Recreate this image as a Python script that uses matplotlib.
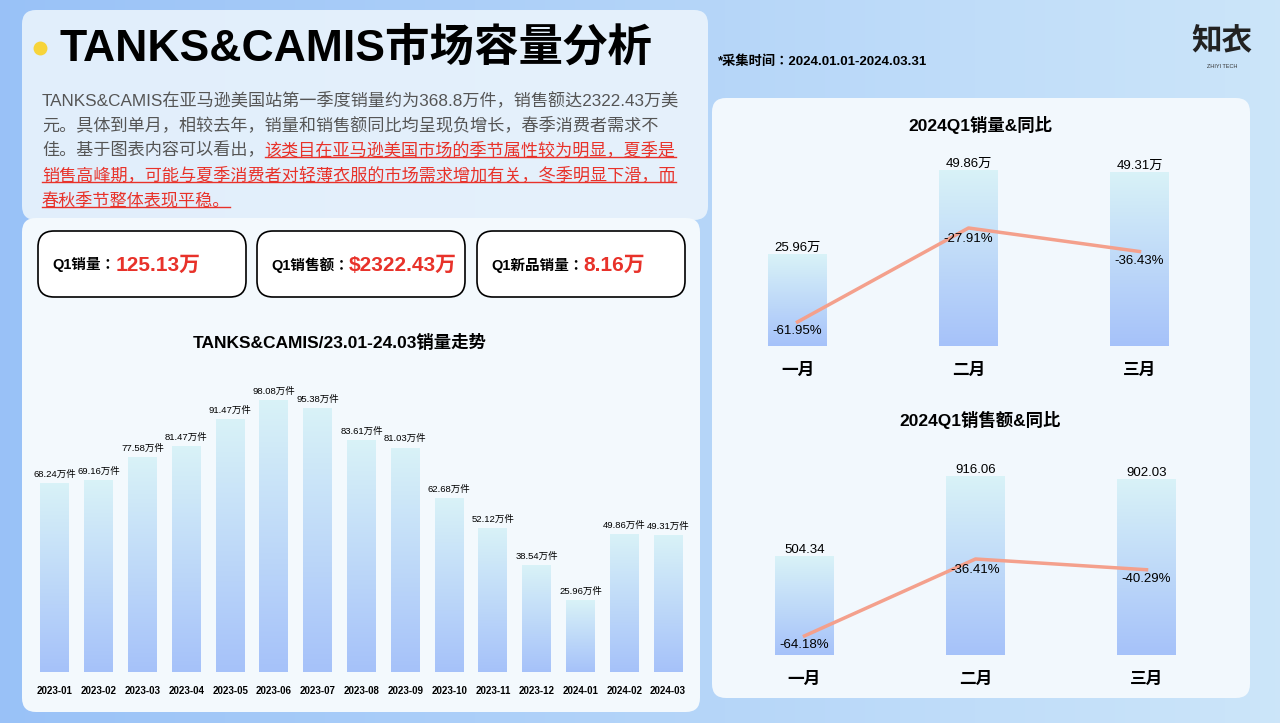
import numpy as np
import matplotlib.pyplot as plt
from matplotlib import font_manager as fm
from matplotlib.patches import FancyBboxPatch

cjk = sorted({f.name for f in fm.fontManager.ttflist if "CJK" in f.name})
sc = [n for n in cjk if "SC" in n] or cjk
plt.rcParams["font.family"] = ["Liberation Sans"] + sc[:1] + ["DejaVu Sans"]

# ---- data ----
months = ["2023-01", "2023-02", "2023-03", "2023-04", "2023-05", "2023-06", "2023-07", "2023-08",
          "2023-09", "2023-10", "2023-11", "2023-12", "2024-01", "2024-02", "2024-03"]
sales = [68.24, 69.16, 77.58, 81.47, 91.47, 98.08, 95.38, 83.61, 81.03, 62.68, 52.12, 38.54,
         25.96, 49.86, 49.31]

q1_months = ["一月", "二月", "三月"]
q1_volume = [25.96, 49.86, 49.31]
q1_volume_labels = ["25.96万", "49.86万", "49.31万"]
q1_volume_yoy = [-61.95, -27.91, -36.43]
q1_revenue = [504.34, 916.06, 902.03]
q1_revenue_yoy = [-64.18, -36.41, -40.29]

kpi_names = ["Q1销量：", "Q1销售额：", "Q1新品销量："]
kpi_values = ["125.13万", "$2322.43万", "8.16万"]

W, H = 1280, 723
fig = plt.figure(figsize=(12.8, 7.23), dpi=100)


def ax_px(x, y, w, h):
    return fig.add_axes([x / W, 1 - (y + h) / H, w / W, h / H])


# background
bg = ax_px(0, 0, W, H)
grad = np.linspace(0, 1, 256)
c0 = np.array([0.60, 0.76, 0.97])
c1 = np.array([0.80, 0.90, 0.98])
img = c0[None, :] + (c1 - c0)[None, :] * grad[:, None]
bg.imshow(img[None, :, :], extent=[0, W, H, 0], aspect="auto")
bg.set_xlim(0, W)
bg.set_ylim(H, 0)
bg.axis("off")


def panel(x, y, w, h, fc, ec="none", lw=0, r=14, alpha=1.0):
    bg.add_patch(FancyBboxPatch((x, y), w, h, boxstyle=f"round,pad=0,rounding_size={r}",
                                fc=fc, ec=ec, lw=lw, alpha=alpha, zorder=2))


panel(22, 10, 686, 210, "#eef6fc", alpha=0.85)
panel(22, 218, 678, 494, "#f3f9fd")
panel(712, 98, 538, 600, "#f2f8fd")
for x in (38, 257, 477):
    panel(x, 231, 208, 66, "white", ec="black", lw=1.2, r=16)

# title
bg.plot(40, 48, "o", ms=9, color="#f7d43a", zorder=3)
bg.text(60, 48, "TANKS&CAMIS市场容量分析", fontsize=32, fontweight="bold", va="center", zorder=3)
bg.text(718, 62, "*采集时间：2024.01.01-2024.03.31", fontsize=9.5, fontweight="bold", va="center", zorder=3)
bg.text(1222, 42, "知衣", fontsize=22, fontweight="bold", ha="center", va="center", color="#222", zorder=3)
bg.text(1222, 66, "ZHIYI TECH", fontsize=4, ha="center", va="center", color="#333", zorder=3)

# paragraph
grey = "#555555"
red = "#e8322a"
fs = 12.3
bg.text(42, 100, "TANKS&CAMIS在亚马逊美国站第一季度销量约为368.8万件，销售额达2322.43万美",
        fontsize=fs, color=grey, va="center", zorder=3)
bg.text(42, 125, "元。具体到单月，相较去年，销量和销售额同比均呈现负增长，春季消费者需求不",
        fontsize=fs, color=grey, va="center", zorder=3)
t3 = bg.text(42, 150, "佳。基于图表内容可以看出，", fontsize=fs, color=grey, va="center", zorder=3)
r3 = bg.annotate("该类目在亚马逊美国市场的季节属性较为明显，夏季是", xy=(1, 0.5), xycoords=t3,
                 va="center", fontsize=fs, color=red, zorder=3)
r4 = bg.text(42, 175, "销售高峰期，可能与夏季消费者对轻薄衣服的市场需求增加有关，冬季明显下滑，而",
             fontsize=fs, color=red, va="center", zorder=3)
r5 = bg.text(42, 200, "春秋季节整体表现平稳。", fontsize=fs, color=red, va="center", zorder=3)

# KPI texts
for x, name, val in zip((52, 271, 491), kpi_names, kpi_values):
    t = bg.text(x, 265, name, fontsize=10.5, fontweight="bold", va="center", zorder=3)
    bg.annotate(val, xy=(1, 0.5), xycoords=t, va="center", fontsize=15, fontweight="bold",
                color=red, zorder=3)

bg.text(340, 343, "TANKS&CAMIS/23.01-24.03销量走势", fontsize=12.5, fontweight="bold",
        ha="center", va="center", zorder=3)
bg.text(980, 125, "2024Q1销量&同比", fontsize=12.5, fontweight="bold", ha="center", va="center", zorder=3)
bg.text(980, 420, "2024Q1销售额&同比", fontsize=12.5, fontweight="bold", ha="center", va="center", zorder=3)

# gradient bar helper
top_c = np.array([0.85, 0.95, 0.97])
bot_c = np.array([0.65, 0.76, 0.98])
vgrad = top_c[None, :] + (bot_c - top_c)[None, :] * np.linspace(0, 1, 128)[:, None]


def grad_bars(ax, xs, vals, width):
    bars = ax.bar(xs, vals, width=width, color="none", zorder=2)
    for b in bars:
        x0, w, h = b.get_x(), b.get_width(), b.get_height()
        im = ax.imshow(vgrad[:, None, :], extent=[x0, x0 + w, 0, h], aspect="auto", zorder=2)
        im.set_clip_path(b)
    return bars


# main bar chart
ax = ax_px(33, 395, 657, 277)
xs = np.arange(len(months))
grad_bars(ax, xs, sales, 0.66)
for x, v in zip(xs, sales):
    ax.text(x, v + 1.5, f"{v:.2f}万件", ha="center", va="bottom", fontsize=6.8, zorder=3)
ax.set_xlim(-0.5, len(months) - 0.5)
ax.set_ylim(0, 100)
ax.set_xticks(xs, months, fontsize=7, fontweight="bold")
ax.tick_params(length=0, pad=10)
ax.set_yticks([])
for s in ax.spines.values():
    s.set_visible(False)
ax.patch.set_alpha(0)


def q1_chart(x, y, h, vals, labels, yoy, ylim2):
    a = ax_px(x, y, 513, h)
    xs3 = np.arange(3)
    grad_bars(a, xs3, vals, 0.34)
    a.set_xlim(-0.5, 2.5)
    a.set_ylim(0, max(vals))
    a.set_xticks(xs3, q1_months, fontsize=12, fontweight="bold")
    a.tick_params(length=0, pad=12)
    a.set_yticks([])
    for s in a.spines.values():
        s.set_visible(False)
    a.patch.set_alpha(0)
    for xx, v, lab in zip(xs3, vals, labels):
        a.text(xx, v, lab, ha="center", va="bottom", fontsize=9.5, zorder=4, clip_on=False)
    b = a.twinx()
    b.set_position(a.get_position())
    b.plot(xs3, yoy, color="#f4a08c", lw=2.5, zorder=3)
    b.set_ylim(*ylim2)
    b.set_xlim(-0.5, 2.5)
    b.axis("off")
    for xx, v in zip(xs3, yoy):
        b.text(xx, v - 1, f"{v:.2f}%", ha="center", va="top" if xx == 0 else "center",
               fontsize=9.5, zorder=4)
    b.texts[1].set_y(yoy[1] - 4)
    b.texts[2].set_y(yoy[2] - 3.5)


q1_chart(712, 170, 176, q1_volume, q1_volume_labels, q1_volume_yoy, (-70.66, -6.9))
q1_chart(719, 476, 179, q1_revenue, [f"{v:.2f}" for v in q1_revenue], q1_revenue_yoy, (-71.07, -6.45))

# underline red text
fig.canvas.draw()
inv = bg.transData.inverted()
for t in (r3, r4, r5):
    bb = t.get_window_extent()
    (x0, y0), (x1, y1) = inv.transform([(bb.x0, bb.y0), (bb.x1, bb.y1)])
    bg.plot([x0, x1], [y0 - 1, y0 - 1], color=red, lw=1, zorder=3)

fig.savefig("out.png", dpi=100)
